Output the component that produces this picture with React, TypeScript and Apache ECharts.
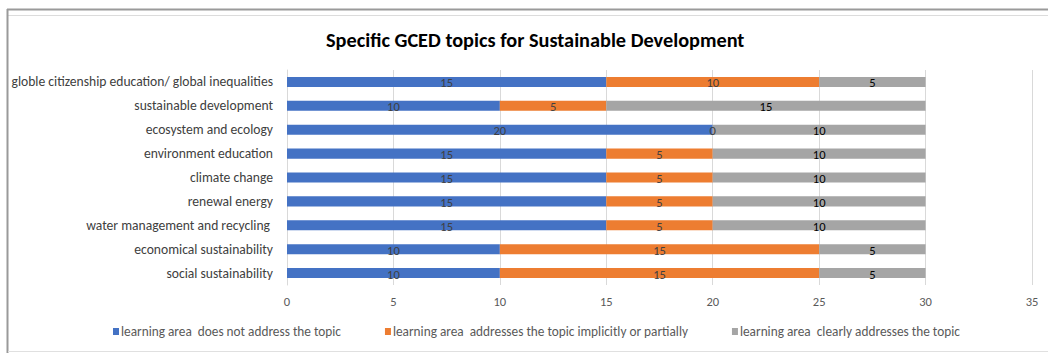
import React, { useEffect, useRef } from "react";
import * as echarts from "echarts";

const categories = [
  "globle citizenship education/ global inequalities",
  "sustainable development",
  "ecosystem and ecology",
  "environment education",
  "climate change",
  "renewal energy",
  "water management and recycling ",
  "economical sustainability",
  "social sustainability",
];

const notAddressed = [15, 10, 20, 15, 15, 15, 15, 10, 10];
const partially = [10, 5, 0, 5, 5, 5, 5, 15, 15];
const clearly = [5, 15, 10, 10, 10, 10, 10, 5, 5];

const seriesNames = [
  "learning area  does not address the topic",
  "learning area  addresses the topic implicitly or partially",
  "learning area  clearly addresses the topic",
];

const xTicks = { min: 0, max: 35, interval: 5 };

const FONT = "Carlito, 'Liberation Sans Narrow', 'Open Sans', sans-serif";

export default function App() {
  const ref = useRef<HTMLDivElement>(null);

  useEffect(() => {
    if (!ref.current) return;
    const chart = echarts.init(ref.current, undefined, { renderer: "svg" });

    const mkSeries = (name: string, data: number[], color: string, labelColor: string) => ({
      name,
      type: "bar",
      stack: "total",
      data,
      barWidth: "42%",
      itemStyle: { color },
      label: {
        show: true,
        position: "inside",
        color: labelColor,
        fontSize: 12.5,
        fontFamily: FONT,
        offset: [0, 1],
      },
      emphasis: { disabled: true },
    });

    chart.setOption({
      animation: false,
      textStyle: { fontFamily: FONT },
      title: {
        text: "Specific GCED topics for Sustainable Development",
        left: 321,
        top: 25,
        textStyle: { fontSize: 20.3, fontWeight: "bold", color: "#000", fontFamily: FONT },
      },
      grid: { left: 287, right: 16, top: 70, bottom: 68 },
      xAxis: {
        type: "value",
        min: xTicks.min,
        max: xTicks.max,
        interval: xTicks.interval,
        axisLine: { show: false },
        axisTick: { show: false },
        splitLine: { show: true, lineStyle: { color: "#d9d9d9", width: 1 } },
        axisLabel: { color: "#595959", fontSize: 12.5, margin: 10, fontFamily: FONT },
      },
      yAxis: {
        type: "category",
        data: categories,
        inverse: true,
        axisLine: { show: true, lineStyle: { color: "#d9d9d9" } },
        axisTick: { show: false },
        axisLabel: { color: "#404040", fontSize: 13.6, margin: 14, fontFamily: FONT },
      },
      legend: {
        bottom: 10,
        left: 108,
        itemWidth: 6,
        itemHeight: 7,
        itemGap: 44,
        icon: "rect",
        textStyle: { color: "#595959", fontSize: 13.3, fontFamily: FONT, padding: [0, 0, 0, -3] },
        data: seriesNames,
      },
      series: [
        mkSeries(seriesNames[0], notAddressed, "#4472c4", "#404040"),
        mkSeries(seriesNames[1], partially, "#ed7d31", "#404040"),
        mkSeries(seriesNames[2], clearly, "#a5a5a5", "#000"),
      ],
      graphic: [
        { type: "line", shape: { x1: 7, y1: 9.5, x2: 1048, y2: 9.5 }, style: { stroke: "#9a9a9a", lineWidth: 2 } },
        { type: "line", shape: { x1: 8, y1: 15.5, x2: 1048, y2: 15.5 }, style: { stroke: "#dcdcdc", lineWidth: 1 } },
        { type: "line", shape: { x1: 7.5, y1: 9, x2: 7.5, y2: 353 }, style: { stroke: "#9a9a9a", lineWidth: 2 } },
        { type: "line", shape: { x1: 8, y1: 351.5, x2: 1048, y2: 351.5 }, style: { stroke: "#e0e0e0", lineWidth: 1 } },
      ],
    });

    return () => chart.dispose();
  }, []);

  return (
    <div
      ref={ref}
      style={{ position: "fixed", left: 0, top: 0, width: 1048, height: 353, background: "#fff" }}
    />
  );
}
